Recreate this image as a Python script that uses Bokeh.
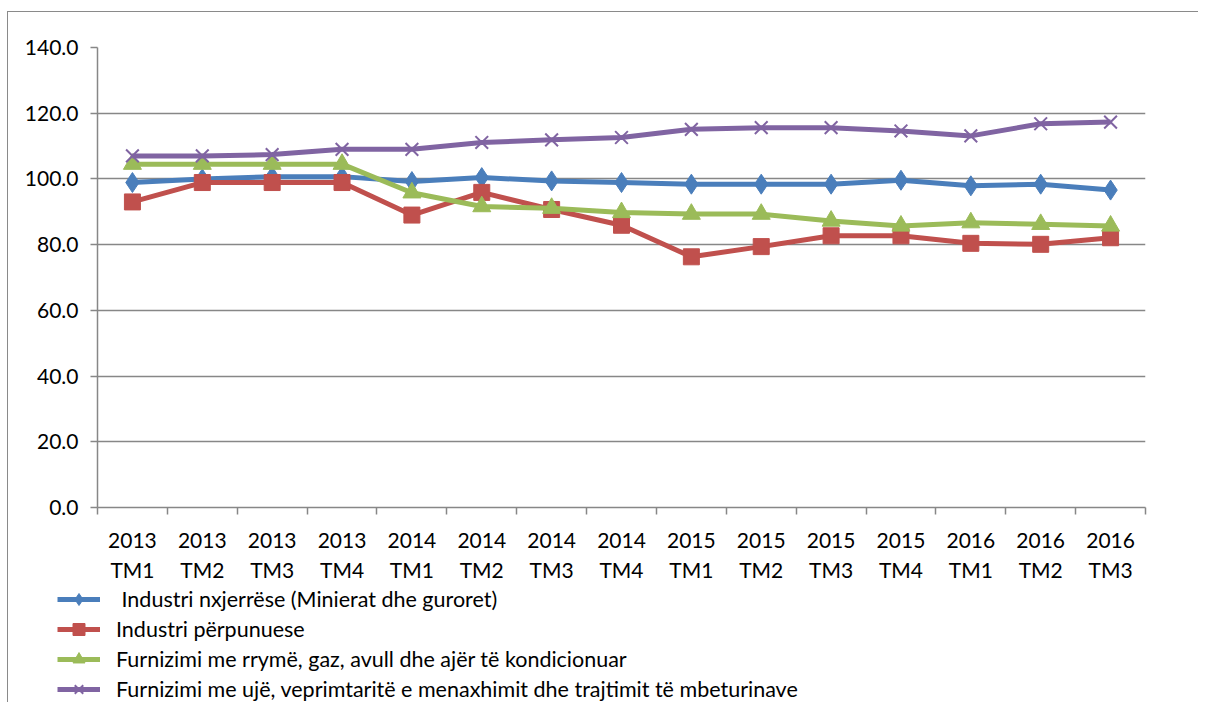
from bokeh.plotting import figure
from bokeh.layouts import column, row
from bokeh.models import (Range1d, FixedTicker, NumeralTickFormatter, Legend, LegendItem)
from bokeh.embed import file_html
from bokeh.resources import INLINE

periods = ["2013\nTM1", "2013\nTM2", "2013\nTM3", "2013\nTM4",
           "2014\nTM1", "2014\nTM2", "2014\nTM3", "2014\nTM4",
           "2015\nTM1", "2015\nTM2", "2015\nTM3", "2015\nTM4",
           "2016\nTM1", "2016\nTM2", "2016\nTM3"]

nxjerrese = [98.9, 100.0, 100.7, 100.7, 99.2, 100.4, 99.4, 98.9, 98.4, 98.4, 98.4, 99.6, 97.9, 98.4, 96.6]
perpunuese = [93.0, 98.9, 98.9, 98.9, 89.0, 95.9, 90.7, 85.9, 76.3, 79.4, 82.7, 82.7, 80.4, 80.1, 82.1]
rryme = [104.5, 104.5, 104.5, 104.5, 95.8, 91.6, 91.1, 89.8, 89.3, 89.3, 87.2, 85.7, 86.7, 86.2, 85.7]
uje = [107.0, 107.0, 107.4, 109.0, 109.0, 111.1, 111.9, 112.6, 115.1, 115.6, 115.6, 114.6, 113.1, 116.8, 117.3]

names = [" Industri nxjerrëse (Minierat dhe guroret)",
         "Industri përpunuese",
         "Furnizimi me rrymë, gaz, avull dhe ajër të kondicionuar",
         "Furnizimi me ujë, veprimtaritë e menaxhimit dhe trajtimit të mbeturinave"]

y_ticks = [0, 20, 40, 60, 80, 100, 120, 140]

FONT = "Lato"
GRID = "#878787"

x = list(range(len(periods)))

p = figure(width=1190, height=572, output_backend="svg", toolbar_location=None,
           x_range=Range1d(-0.5, len(periods) - 0.5), y_range=Range1d(0, 140),
           min_border_left=89, min_border_right=53, min_border_top=35, min_border_bottom=77)
p.outline_line_color = None

p.yaxis.ticker = FixedTicker(ticks=y_ticks)
p.yaxis.formatter = NumeralTickFormatter(format="0.0")
p.yaxis.axis_line_color = GRID
p.yaxis.axis_line_width = 1.5
p.yaxis.major_tick_line_color = GRID
p.yaxis.major_tick_line_width = 1.5
p.yaxis.major_tick_out = 7
p.yaxis.major_tick_in = 0
p.yaxis.minor_tick_line_color = None
p.yaxis.major_label_text_font = FONT
p.yaxis.major_label_text_font_size = "21px"
p.yaxis.major_label_text_color = "#000000"
p.yaxis.major_label_standoff = 12

p.xaxis.ticker = FixedTicker(ticks=x, minor_ticks=[i - 0.5 for i in range(len(periods) + 1)])
p.xaxis.major_label_overrides = {i: s for i, s in enumerate(periods)}
p.xaxis.axis_line_color = GRID
p.xaxis.axis_line_width = 1.5
p.xaxis.major_tick_line_color = None
p.xaxis.minor_tick_line_color = GRID
p.xaxis.minor_tick_line_width = 1.5
p.xaxis.minor_tick_out = 7
p.xaxis.minor_tick_in = 0
p.xaxis.major_label_text_font = FONT
p.xaxis.major_label_text_font_size = "21px"
p.xaxis.major_label_text_color = "#000000"
p.xaxis.major_label_standoff = 12

p.xgrid.grid_line_color = None
p.ygrid.ticker = FixedTicker(ticks=y_ticks)
p.ygrid.grid_line_color = GRID
p.ygrid.grid_line_width = 1.5

series = [
    (nxjerrese, "#4A7EBB", "diamond", 20, 0),
    (perpunuese, "#C0504D", "square", 16, 0),
    (rryme, "#9BBB59", "triangle", 18, 0),
    (uje, "#8064A2", "x", 18, 2),
]

# legend lives in a strip below the chart; its own renderers fall outside its (empty) view
p2 = figure(width=1190, height=118, output_backend="svg", toolbar_location=None,
            x_axis_location=None, y_axis_location=None,
            x_range=Range1d(-0.5, len(periods) - 0.5), y_range=Range1d(-20, -10),
            min_border_left=0, min_border_right=0, min_border_top=0, min_border_bottom=0)
p2.grid.grid_line_color = None
p2.outline_line_color = None

items = []
for (vals, col, marker, size, lw), name in zip(series, names):
    p.line(x, vals, line_color=col, line_width=5)
    if marker == "x":
        p.scatter(x, vals, marker=marker, size=size, line_color=col, line_width=lw)
        l_pt = p2.scatter(x, vals, marker=marker, size=size, line_color=col, line_width=lw)
    else:
        p.scatter(x, vals, marker=marker, size=size, fill_color=col, line_color=col, line_width=1)
        l_pt = p2.scatter(x, vals, marker=marker, size=size, fill_color=col, line_color=col, line_width=1)
    l_line = p2.line(x, vals, line_color=col, line_width=5)
    items.append(LegendItem(label=name, renderers=[l_line, l_pt]))

legend = Legend(items=items, location=(49, -2), orientation="vertical",
                background_fill_alpha=0, border_line_color=None,
                padding=0, margin=0, spacing=0,
                glyph_width=43, glyph_height=30, label_height=30,
                label_standoff=16,
                label_text_font=FONT, label_text_font_size="21.5px", label_text_color="#000000")
p2.add_layout(legend, "center")

layout = column(p, row(p2), spacing=0,
                styles={"border-left": "1px solid #8a8a8a", "border-top": "1px solid #8a8a8a",
                        "margin-left": "7px", "margin-top": "11px"})

open("out.html", "w").write(file_html(layout, INLINE))
